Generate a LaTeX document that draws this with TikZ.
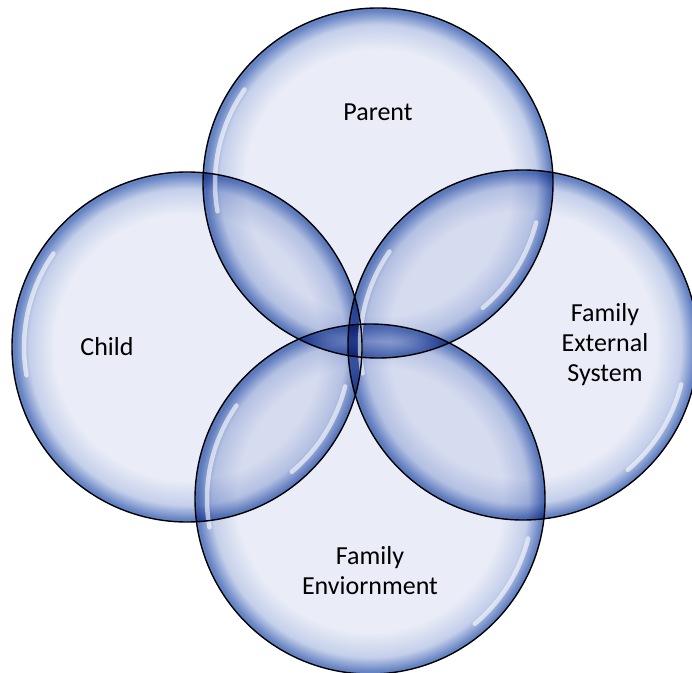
\documentclass[tikz,border=0pt]{standalone}
\usepackage{fontspec}
\setmainfont{Carlito}
\usetikzlibrary{positioning}

\definecolor{bubblein}{HTML}{EAEDF7}
\definecolor{bubblemid}{HTML}{C4CFEA}
\definecolor{bubbleedge}{HTML}{6583C3}
\pgfdeclareradialshading{bubble}{\pgfpoint{0bp}{0bp}}{%
  color(0bp)=(bubblein); color(19bp)=(bubblein); color(22.6bp)=(bubblemid);
  color(24.6bp)=(bubbleedge); color(25bp)=(bubbleedge); color(50bp)=(bubbleedge)}

\tikzset{
  ring/.style={circle, shading=bubble, minimum size=350pt, inner sep=0pt},
  rim/.style={circle, draw=black, line width=1.4pt, minimum size=350pt, inner sep=0pt},
  shine/.style={white, line width=4.5pt, line cap=round, opacity=0.6},
  lbl/.style={align=center, font=\fontsize{26}{30}\selectfont}
}

\begin{document}
\begin{tikzpicture}[x=1pt,y=1pt]
            \useasboundingbox (0,0) rectangle (692,672);
            \fill[white] (0,0) rectangle (692,672);

            % Bubbles
            \begin{scope}[blend group=multiply]
            \node[ring] (parent) at (378,489) {};
            \node[ring] (child) at (187,325) {};
            \node[ring] (extern) at (523,327) {};
            \node[ring] (enviro) at (370,173) {};
            \end{scope}

            % Shine
            \foreach \b in {parent,child,extern,enviro}{
              \draw[shine] ([shift={(145:163pt)}]\b.center) arc[start angle=145, end angle=190, radius=163pt];
              \draw[shine] ([shift={(-14:163pt)}]\b.center) arc[start angle=-14, end angle=-50, radius=163pt];
            }

            % Outlines
            \foreach \b in {parent,child,extern,enviro}
              \node[rim] at (\b.center) {};

            % Labels
            \node[lbl] (tparent) at (378,560) {Parent};
            \node[lbl] (tchild) at (107,325) {Child};
            \node[lbl] (textern) at (605,327) {Family\\External\\System};
            \node[lbl] (tenviro) at (370,101) {Family\\Enviornment};
\end{tikzpicture}
\end{document}
